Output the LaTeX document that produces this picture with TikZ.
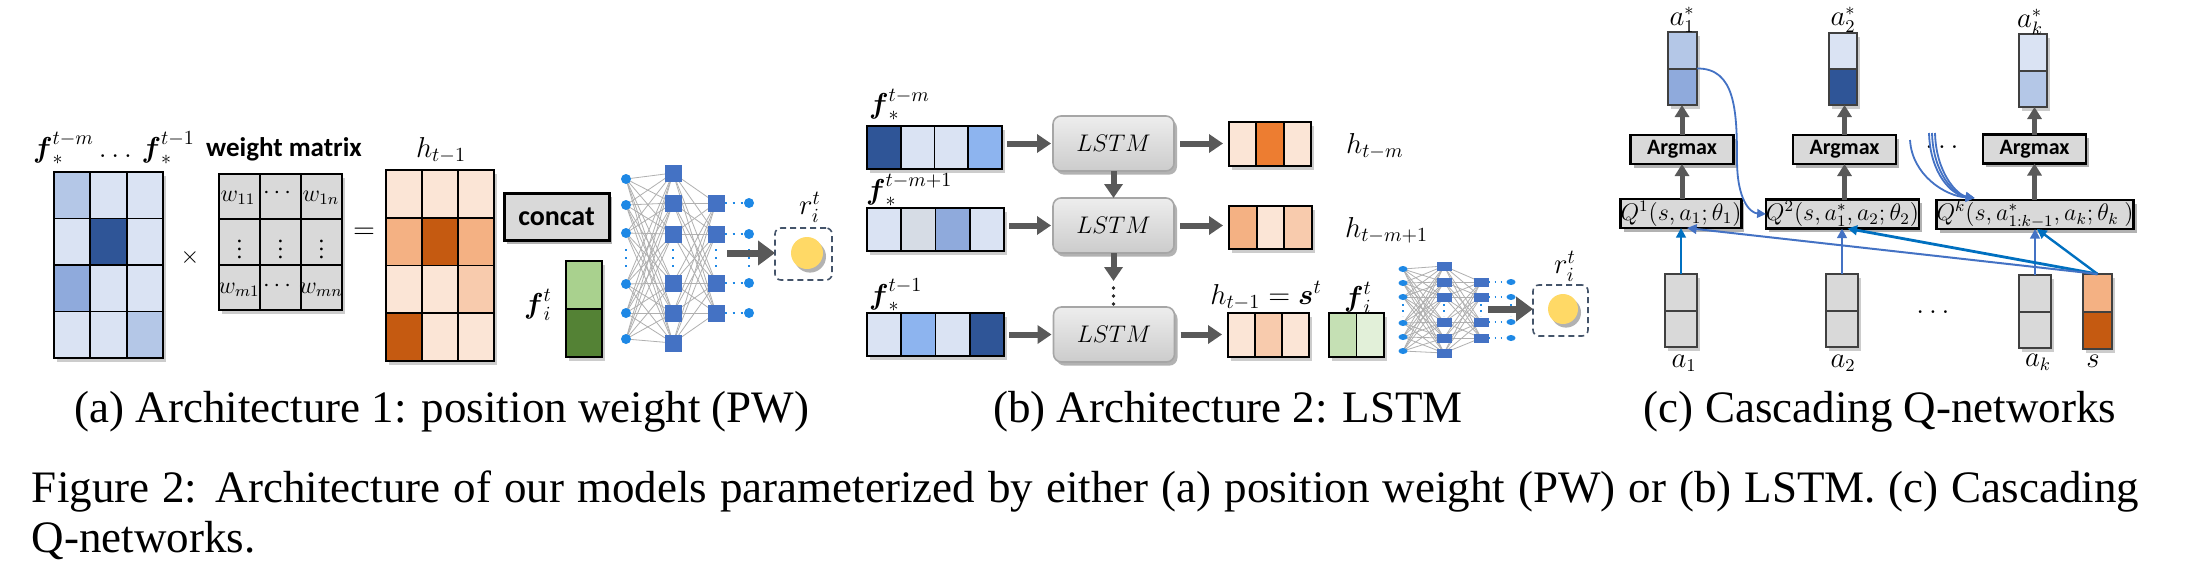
\documentclass[tikz,border=0pt]{standalone}
\usepackage{fontspec}
\usepackage{amsmath}
\setmainfont{Liberation Serif}
\newfontfamily\carl{Carlito}
\usetikzlibrary{arrows.meta,shadows,fit,calc,shapes.geometric}
\definecolor{vl}{HTML}{DAE3F3}
\definecolor{lb}{HTML}{B4C7E7}
\definecolor{mb}{HTML}{8FAADC}
\definecolor{db}{HTML}{2F5597}
\definecolor{bb}{HTML}{8DB4EF}
\definecolor{gl}{HTML}{D6DCE5}
\definecolor{op}{HTML}{FBE5D6}
\definecolor{ol}{HTML}{F8CBAD}
\definecolor{om}{HTML}{F4B183}
\definecolor{od}{HTML}{C55A11}
\definecolor{oo}{HTML}{ED7D31}
\definecolor{gr}{HTML}{D9D9D9}
\definecolor{g1}{HTML}{A9D18E}
\definecolor{g2}{HTML}{548235}
\definecolor{g3}{HTML}{C5E0B4}
\definecolor{g4}{HTML}{E2F0D9}
\definecolor{arr}{HTML}{595959}
\definecolor{nsq}{HTML}{4472C4}
\definecolor{ncirc}{HTML}{1E88E5}
\definecolor{edgec}{HTML}{B0B0B0}
\definecolor{ylw}{HTML}{FFD966}
\definecolor{dashc}{HTML}{44546A}
\definecolor{qb}{HTML}{0070C0}
\definecolor{boxg}{HTML}{A6A6A6}
\definecolor{cgr}{HTML}{404040}
\pgfdeclarelayer{bg}
\pgfsetlayers{bg,main}
% x0 y0 cellw cellh ncols nrows colours
\newcommand\grid[7]{%
  \fill[black,opacity=0.2] (#1+3,#2+4) rectangle (#1+#5*#3+3,#2+#6*#4+4);
  \foreach \cl [count=\i from 0] in {#7}{%
    \pgfmathtruncatemacro\cc{mod(\i,#5)}%
    \pgfmathtruncatemacro\rr{floor(\i/#5)}%
    \filldraw[fill=\cl,cellb] (#1+\cc*#3,#2+\rr*#4) rectangle ++(#3,#4);
  }%
}
\begin{document}
\begin{tikzpicture}[x=0.5pt,y=-0.5pt,
  every node/.style={inner sep=0pt,outer sep=0pt},
  cellb/.style={draw=black,line width=0.9pt},
  lab/.style={font=\fontsize{14.5pt}{16pt}\selectfont},
  clab/.style={font=\fontsize{13.5pt}{15pt}\selectfont},
  wl/.style={font=\fontsize{11.5pt}{12pt}\selectfont},
  capt/.style={font=\fontsize{22.5pt}{25pt}\selectfont,anchor=base},
  garr/.style={draw=arr,line width=3pt,-{Triangle[width=9pt,length=7pt]}},
  garrc/.style={draw=arr,line width=2.5pt,-{Triangle[width=7pt,length=6pt]}},
  bigarr/.style={draw=arr,line width=3.5pt,-{Triangle[width=12pt,length=8.5pt]}},
  barr/.style={draw=qb,line width=1.2pt,-{Triangle[width=4.8pt,length=4.8pt]}},
  bcurve/.style={draw=nsq,line width=0.9pt,-{Triangle[width=4.4pt,length=4.4pt]}},
  nedge/.style={draw=edgec,line width=0.4pt},
  shad/.style={drop shadow={shadow xshift=1.5pt,shadow yshift=-1.8pt,opacity=0.3,fill=black}},
  lstmbox/.style={rectangle,rounded corners=4pt,minimum width=60.5pt,minimum height=27.5pt,
    top color=white!93!black,bottom color=white!80!black,draw=boxg,line width=0.8pt,shad,
    font=\fontsize{12.5pt}{13pt}\selectfont},
  gbox/.style={rectangle,fill=gr,draw=black,line width=1.2pt,shad,minimum height=14.5pt},
  argbox/.style={gbox,minimum width=51.5pt,font=\carl\bfseries\fontsize{11pt}{12pt}\selectfont},
  qbox/.style={gbox,font=\fontsize{11.5pt}{12pt}\selectfont},
  ncircle/.style={circle,fill=ncirc,minimum size=5pt},
  nsquare/.style={rectangle,fill=nsq,minimum size=8.5pt},
  scircle/.style={ellipse,fill=ncirc,minimum width=4.5pt,minimum height=3pt},
  ssquare/.style={rectangle,fill=nsq,minimum width=7.5pt,minimum height=4.5pt},
  ndots/.style={draw=ncirc,line width=1pt,dash pattern=on 1pt off 3pt},
  sdots/.style={draw=ncirc,line width=0.7pt,dash pattern=on 0.8pt off 2.2pt},
  rbox/.style={rectangle,rounded corners=3pt,draw=dashc,line width=0.8pt,dash pattern=on 3pt off 2pt},
  ybal/.style={circle,fill=ylw,shad},
]
\begin{pgfonlayer}{bg}
\fill[white] (0,0) rectangle (2198,584);
\end{pgfonlayer}
\useasboundingbox (0,0) rectangle (2198,584);

% ================= (a) =================
\grid{54}{172}{36.33}{46.5}{3}{4}{lb,vl,vl,vl,db,vl,mb,vl,vl,vl,vl,lb}
\node[fit={(54,172)(163,358)}] (fmat) {};
\node[lab] (flab) at (114,148) {$\boldsymbol f_*^{t-m}\ldots\,\boldsymbol f_*^{t-1}$};
\node[font=\fontsize{13pt}{14pt}\selectfont] (times) at (190,257) {$\times$};
\grid{219}{174}{41}{45.33}{3}{3}{gr,gr,gr,gr,gr,gr,gr,gr,gr}
\node[fit={(219,174)(342,310)}] (wmat) {};
\node[font=\carl\bfseries\fontsize{13.5pt}{15pt}\selectfont] (wlab) at (284,149) {weight matrix};
\node[wl] (w11) at (238,198) {$w_{11}$};
\node[wl] (w12) at (279,193) {$\cdots$};
\node[wl] (w1n) at (321,198) {$w_{1n}$};
\node[wl] (v1) at (239.5,243) {$\vdots$};
\node[wl] (v2) at (280.5,243) {$\vdots$};
\node[wl] (v3) at (321.5,243) {$\vdots$};
\node[wl] (wm1) at (239,290) {$w_{m1}$};
\node[wl] (wm2) at (279,286) {$\cdots$};
\node[wl] (wmn) at (321,290) {$w_{mn}$};
\node[font=\fontsize{14pt}{14pt}\selectfont] (eq) at (364,233) {$=$};
\grid{386}{170}{36}{47.75}{3}{4}{op,op,op,om,od,om,op,op,ol,od,op,op}
\node[fit={(386,170)(494,361)}] (hmat) {};
\node[lab] (hlab) at (441,150) {$h_{t-1}$};
\node[gbox,minimum width=52.5pt,minimum height=23.5pt,line width=1.5pt,
  font=\carl\bfseries\fontsize{14pt}{15pt}\selectfont] (concat) at (556.5,216.5) {concat};
\node[lab] (filab) at (538,305) {$\boldsymbol f_i^t$};
\grid{566}{261}{36}{48}{1}{2}{g1,g2}
\node[fit={(566,261)(602,357)}] (gva) {};
% network (a)
\foreach \y [count=\i] in {179,205,233,284,313,339} \node[ncircle] (ia\i) at (626,\y) {};
\foreach \y [count=\i] in {173,203,234,283,313,343} \node[nsquare] (ha\i) at (673,\y) {};
\foreach \y [count=\i] in {203,234,283,313} \node[nsquare] (ka\i) at (716,\y) {};
\foreach \y [count=\i] in {203,234,283,313} \node[ncircle] (oa\i) at (749,\y) {};
\begin{pgfonlayer}{bg}
\foreach \i in {1,...,6}{\foreach \j in {1,...,6}{\draw[nedge] (ia\i.center) -- (ha\j.center);}}
\foreach \i in {1,...,6}{\foreach \j in {1,...,4}{\draw[nedge] (ha\i.center) -- (ka\j.center);}}
\end{pgfonlayer}
\foreach \i in {1,...,4} \draw[ndots] (ka\i.east) -- (oa\i.west);
\foreach \x in {626,673,716,749} \draw[ndots] (\x,249) -- (\x,268);
\node[rbox,minimum width=28.5pt,minimum height=26pt] (ra) at (803.5,254) {};
\node[ybal,minimum size=16pt] (ya) at (807,253) {};
\coordinate (aa0) at (727,253);
\draw[bigarr] (aa0) -- (aa0 -| ra.west);
\node[lab] (ralab) at (810,207) {$r_i^t$};

% ================= (b) =================
\grid{867}{126}{33.75}{43}{4}{1}{db,vl,vl,bb}
\node[fit={(867,126)(1002,169)}] (bv1) {};
\grid{867}{208}{34.25}{43}{4}{1}{vl,gl,mb,vl}
\node[fit={(867,208)(1004,251)}] (bv2) {};
\grid{867}{313}{34.25}{43}{4}{1}{vl,bb,vl,db}
\node[fit={(867,313)(1004,356)}] (bv3) {};
\node[lab,anchor=west] (fb1) at (869,105) {$\boldsymbol f_*^{t-m}$};
\node[lab,anchor=west] (fb2) at (866,190) {$\boldsymbol f_*^{t-m+1}$};
\node[lab,anchor=west] (fb3) at (869,295) {$\boldsymbol f_*^{t-1}$};
\node[lstmbox] (l1) at (1113.5,143.5) {$LSTM$};
\node[lstmbox] (l2) at (1113.5,225.5) {$LSTM$};
\node[lstmbox] (l3) at (1114,334.5) {$LSTM$};
\grid{1229}{122}{27.33}{44}{3}{1}{op,oo,op}
\node[fit={(1229,122)(1311,166)}] (ov1) {};
\grid{1229}{206}{27.67}{43}{3}{1}{om,op,ol}
\node[fit={(1229,206)(1312,249)}] (ov2) {};
\grid{1228}{313}{27}{44}{3}{1}{op,ol,op}
\node[fit={(1228,313)(1309,357)}] (ov3) {};
\grid{1329}{313}{27.5}{44}{2}{1}{g3,g4}
\node[fit={(1329,313)(1384,357)}] (gvb) {};
\draw[garr,shorten <=2.5pt,shorten >=1pt] (l1.west -| bv1.east) -- (l1.west);
\draw[garr,shorten <=2.5pt,shorten >=1pt] (l2.west -| bv2.east) -- (l2.west);
\draw[garr,shorten <=2.5pt,shorten >=1pt] (l3.west -| bv3.east) -- (l3.west);
\draw[garr,shorten <=3pt,shorten >=3pt] (l1.east) -- (l1.east -| ov1.west);
\draw[garr,shorten <=3pt,shorten >=3pt] (l2.east) -- (l2.east -| ov2.west);
\draw[garr,shorten <=3pt,shorten >=3pt] (l3.east) -- (l3.east -| ov3.west);
\draw[garr] (l1.south) -- (l2.north);
\coordinate (ld) at (1113.5,281);
\draw[garr] (l2.south) -- (ld);
\foreach \y in {288,296,304} \fill[black!85] (1113.5,\y) circle (0.9pt);
\node[lab,anchor=west] (hb1) at (1346,146) {$h_{t-m}$};
\node[lab,anchor=west] (hb2) at (1345,230) {$h_{t-m+1}$};
\node[lab] (hb3) at (1266,296) {$h_{t-1}=\boldsymbol s^t$};
\node[lab] (fib) at (1358,298) {$\boldsymbol f_i^t$};
% network (b)
\foreach \y [count=\i] in {269,283,297,323,337,351} \node[scircle] (ib\i) at (1403,\y) {};
\foreach \y [count=\i] in {266,282,297,322,338,353} \node[ssquare] (hb\i) at (1444,\y) {};
\foreach \y [count=\i] in {282,297,322,338} \node[ssquare] (kb\i) at (1481,\y) {};
\foreach \y [count=\i] in {282,297,322,338} \node[scircle] (ob\i) at (1511,\y) {};
\begin{pgfonlayer}{bg}
\foreach \i in {1,...,6}{\foreach \j in {1,...,6}{\draw[nedge] (ib\i.center) -- (hb\j.center);}}
\foreach \i in {1,...,6}{\foreach \j in {1,...,4}{\draw[nedge] (hb\i.center) -- (kb\j.center);}}
\end{pgfonlayer}
\foreach \i in {1,...,4} \draw[sdots] (kb\i.east) -- (ob\i.west);
\foreach \x in {1403,1444,1481,1511} \draw[sdots] (\x,304) -- (\x,316);
\node[rbox,minimum width=27.5pt,minimum height=25.5pt] (rb) at (1560.5,310.5) {};
\node[ybal,minimum size=15pt] (yb) at (1563,309) {};
\coordinate (ab0) at (1488,309);
\draw[bigarr] (ab0) -- (ab0 -| rb.west);
\node[lab] (rblab) at (1565,266) {$r_i^t$};

% ================= (c) =================
\begin{scope}[cellb/.style={draw=cgr,line width=1pt}]
\grid{1668}{32}{29}{36.5}{1}{2}{lb,mb}
\grid{1829}{33}{28}{36}{1}{2}{vl,db}
\grid{2019}{34}{28}{36.5}{1}{2}{vl,lb}
\grid{1665}{274}{32}{36.5}{1}{2}{gr,gr}
\grid{1826}{274}{32}{36.5}{1}{2}{gr,gr}
\grid{2019}{275}{32}{36.5}{1}{2}{gr,gr}
\grid{2083}{274}{29}{37.5}{1}{2}{om,od}
\end{scope}
\node[fit={(1668,32)(1697,105)}] (as1) {};
\node[fit={(1829,33)(1857,105)}] (as2) {};
\node[fit={(2019,34)(2047,107)}] (ask) {};
\node[fit={(1665,274)(1697,347)}] (a1) {};
\node[fit={(1826,274)(1858,347)}] (a2) {};
\node[fit={(2019,275)(2051,348)}] (ak) {};
\node[fit={(2083,274)(2112,349)}] (sv) {};
\node[argbox] (g1) at (1682,149.5) {Argmax};
\node[argbox] (g2) at (1844.5,149.5) {Argmax};
\node[argbox] (gk) at (2034.5,149) {Argmax};
\node[qbox,minimum width=58pt] (q1) at (1681,213.5) {$Q^1(s,a_1;\theta_1)$};
\node[qbox,minimum width=70.5pt] (q2) at (1842.5,214) {$Q^2(s,a_1^*,a_2;\theta_2)$};
\node[qbox,minimum width=87pt] (qk) at (2035,214.5) {$Q^k(s,a_{1:k-1}^*,a_k;\theta_k\ )$};
\node[clab] (las1) at (1682,20) {$a_1^*$};
\node[clab] (las2) at (1843,20) {$a_2^*$};
\node[clab] (lask) at (2030,22) {$a_k^*$};
\node[clab] (la1) at (1684,363) {$a_1$};
\node[clab] (la2) at (1843,363) {$a_2$};
\node[clab] (lak) at (2038,362) {$a_k$};
\node[clab] (ls) at (2093,361) {$s$};
\node[clab] (dd1) at (1942,147) {$\ldots$};
\node[clab] (dd2) at (1933,312) {$\ldots$};
\draw[garrc] (g1.south |- q1.north) -- (g1.south);
\draw[garrc] (g2.south |- q2.north) -- (g2.south);
\draw[garrc] (gk.south |- qk.north) -- (gk.south);
\draw[garrc] (g1.north) -- (g1.north |- as1.south);
\draw[garrc] (g2.north) -- (g2.north |- as2.south);
\draw[garrc] (gk.north) -- (gk.north |- ask.south);
\draw[barr] (a1.north) -- (a1.north |- q1.south);
\draw[barr,draw=nsq] (a2.north) -- (a2.north |- q2.south);
\draw[barr,draw=nsq] (ak.north) -- (ak.north |- qk.south);
\draw[barr] (sv.north) -- ([xshift=1pt]qk.south);
\draw[barr,line width=1.4pt] (sv.north) -- ([xshift=2.5pt]q2.south);
\draw[barr,draw=nsq,line width=1pt] (sv.north) -- ([xshift=3pt]q1.south);
\draw[bcurve] (as1.east) .. controls (1735,68) and (1737,110) .. (1737,160) .. controls (1737,200) and (1750,213) .. (q2.west);
\coordinate (c0) at (1910,140);
\coordinate (c1) at (1929,133);
\coordinate (c2) at (1932,133);
\coordinate (c3) at (1935,133);
\coordinate (qkin) at ($(qk.north west)+(38,-2)$);
\draw[bcurve] (c0) .. controls (1912,175) and (1945,196) .. (qkin);
\foreach \c in {c1,c2,c3} \draw[bcurve] (\c) .. controls ($(\c)+(1,40)$) and ($(\c)+(22,62)$) .. (qkin);

% ================= captions =================
\node[capt] (capa) at (442,422) {(a) Architecture 1: position weight (PW)};
\node[capt] (capb) at (1228,422) {(b) Architecture 2: LSTM};
\node[capt] (capc) at (1880,422) {(c) Cascading Q-networks};
\node[capt,anchor=base west] (cap1) at (32,502) {\makebox[1053.5pt][s]{Figure 2: Architecture of our models parameterized by either (a) position weight (PW) or (b) LSTM. (c) Cascading}};
\node[capt,anchor=base west] (cap2) at (32,552) {Q-networks.};
\end{tikzpicture}
\end{document}
